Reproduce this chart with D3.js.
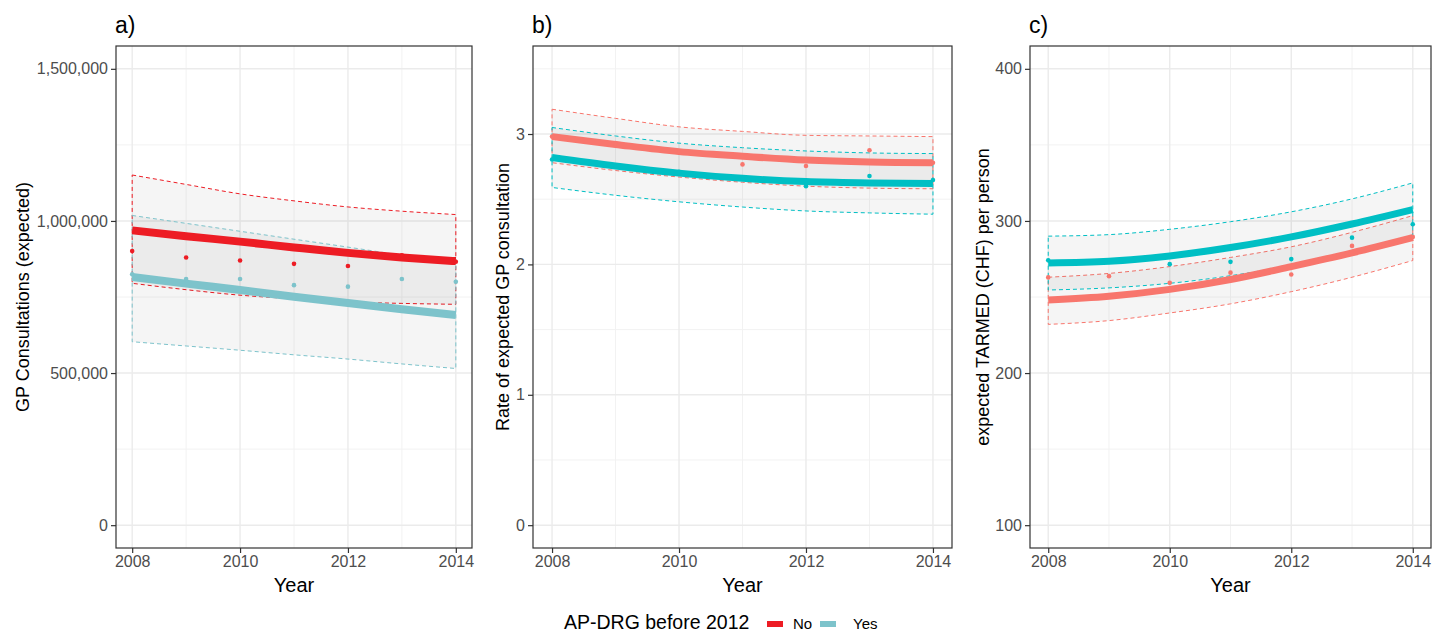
<!DOCTYPE html>
<html>
<head>
<meta charset="utf-8">
<script src="https://cdn.jsdelivr.net/npm/d3@7"></script>
<style>
  body { margin: 0; background: #fff; }
  svg { font-family: "Liberation Sans", Arial, sans-serif; }
</style>
</head>
<body>
<script>
// years on the x axis
var years = [2008, 2009, 2010, 2011, 2012, 2013, 2014];
var xTicks = [2008, 2010, 2012, 2014];

// a) GP consultations (expected)
var aNoFit  = [969000, 950000, 932000, 913000, 895000, 880000, 868000];
var aNoLow  = [795000, 774000, 756000, 744000, 734000, 729000, 726000];
var aNoHigh = [1151000, 1120000, 1089000, 1066000, 1046000, 1032000, 1021000];
var aNoObs  = [901000, 880000, 870000, 859000, 852000, 887000, 866000];
var aYesFit  = [816000, 794000, 773000, 751000, 730000, 710000, 691000];
var aYesLow  = [603000, 589000, 575000, 560000, 546000, 530000, 515000];
var aYesHigh = [1018000, 992000, 966000, 940000, 914000, 887000, 860000];
var aYesObs  = [825000, 809000, 809000, 789000, 784000, 809000, 800000];
var aTicks = [0, 500000, 1000000, 1500000];

// b) rate of expected GP consultation
var bNoFit  = [2.98, 2.92, 2.865, 2.83, 2.80, 2.785, 2.78];
var bNoLow  = [2.78, 2.72, 2.67, 2.63, 2.60, 2.585, 2.58];
var bNoHigh = [3.19, 3.12, 3.055, 3.02, 2.99, 2.985, 2.98];
var bNoObs  = [2.98, 2.93, 2.86, 2.767, 2.755, 2.875, 2.78];
var bYesFit  = [2.82, 2.755, 2.70, 2.66, 2.635, 2.625, 2.62];
var bYesLow  = [2.59, 2.53, 2.48, 2.44, 2.41, 2.395, 2.385];
var bYesHigh = [3.05, 2.985, 2.93, 2.895, 2.87, 2.855, 2.85];
var bYesObs  = [2.805, 2.75, 2.71, 2.66, 2.60, 2.678, 2.647];
var bTicks = [0, 1, 2, 3];

// c) expected TARMED (CHF) per person
var cNoFit  = [248, 250.5, 255, 261.5, 270, 279, 289];
var cNoLow  = [232, 234.5, 239.5, 245.5, 253.5, 263, 274];
var cNoHigh = [263, 265.5, 270, 276, 283, 292.5, 303.5];
var cNoObs  = [262.9, 263.7, 259.3, 266, 264.8, 283.6, 289.5];
var cYesFit  = [272.4, 273.5, 277, 282.5, 289.5, 298, 307.5];
var cYesLow  = [254.6, 256, 259, 264, 271, 280, 290.5];
var cYesHigh = [290, 291, 294.5, 299.5, 306, 314.5, 325];
var cYesObs  = [274.2, 273, 271.6, 273.1, 274.9, 289, 297.8];
var cTicks = [100, 200, 300, 400];

var legendLabels = ["No", "Yes"];
var legendColors = ["#ED1C24", "#7DC3CB"];

var panels = [
  {tag: "a)", left: 116, right: 472, domain: [0, 1500000], ticks: aTicks,
   fmt: d3.format(","), ytitle: "GP Consultations (expected)", titleX: 22,
   colors: ["#ED1C24", "#7DC3CB"],
   series: [[aNoFit, aNoLow, aNoHigh, aNoObs], [aYesFit, aYesLow, aYesHigh, aYesObs]]},
  {tag: "b)", left: 533, right: 952, domain: [0, 3.5], ticks: bTicks,
   fmt: d3.format("d"), ytitle: "Rate of expected GP consultation", titleX: 502,
   colors: ["#F8766D", "#00BFC4"],
   series: [[bNoFit, bNoLow, bNoHigh, bNoObs], [bYesFit, bYesLow, bYesHigh, bYesObs]]},
  {tag: "c)", left: 1030, right: 1431, domain: [100, 400], ticks: cTicks,
   fmt: d3.format("d"), ytitle: "expected TARMED (CHF) per person", titleX: 982,
   colors: ["#F8766D", "#00BFC4"],
   series: [[cNoFit, cNoLow, cNoHigh, cNoObs], [cYesFit, cYesLow, cYesHigh, cYesObs]]}
];

var W = 1441, H = 633, pTop = 46, pBottom = 548;

var svg = d3.select("body").append("svg")
  .attr("width", W).attr("height", H);

var expand = function(dom) {
  var e = (dom[1] - dom[0]) * 0.05;
  return [dom[0] - e, dom[1] + e];
};

panels.forEach(function(p) {
  var x = d3.scaleLinear().domain(expand([2008, 2014])).range([p.left, p.right]);
  var y = d3.scaleLinear().domain(expand(p.domain)).range([pBottom, pTop]);
  var g = svg.append("g");

  // grid: minor then major
  var yStep = p.ticks[1] - p.ticks[0];
  var yMinor = p.ticks.map(function(t) { return t + yStep / 2; });
  var xMinor = [2009, 2011, 2013];
  g.selectAll(".ymin").data(yMinor).enter().append("line")
    .attr("x1", p.left).attr("x2", p.right)
    .attr("y1", function(d) { return y(d); }).attr("y2", function(d) { return y(d); })
    .attr("stroke", "#f2f2f2").attr("stroke-width", 1);
  g.selectAll(".xmin").data(xMinor).enter().append("line")
    .attr("y1", pTop).attr("y2", pBottom)
    .attr("x1", function(d) { return x(d); }).attr("x2", function(d) { return x(d); })
    .attr("stroke", "#f2f2f2").attr("stroke-width", 1);
  g.selectAll(".ymaj").data(p.ticks).enter().append("line")
    .attr("x1", p.left).attr("x2", p.right)
    .attr("y1", function(d) { return y(d); }).attr("y2", function(d) { return y(d); })
    .attr("stroke", "#ebebeb").attr("stroke-width", 1.4);
  g.selectAll(".xmaj").data(xTicks).enter().append("line")
    .attr("y1", pTop).attr("y2", pBottom)
    .attr("x1", function(d) { return x(d); }).attr("x2", function(d) { return x(d); })
    .attr("stroke", "#ebebeb").attr("stroke-width", 1.4);

  var line = d3.line()
    .x(function(d, i) { return x(years[i]); })
    .y(function(d) { return y(d); })
    .curve(d3.curveMonotoneX);

  // ribbons with dashed outline
  p.series.forEach(function(s, k) {
    var area = d3.area()
      .x(function(d, i) { return x(years[i]); })
      .y0(function(d, i) { return y(s[1][i]); })
      .y1(function(d) { return y(d); })
      .curve(d3.curveMonotoneX);
    g.append("path").datum(s[2]).attr("d", area)
      .attr("fill", "#000").attr("fill-opacity", 0.04)
      .attr("stroke", p.colors[k]).attr("stroke-width", 1)
      .attr("stroke-dasharray", "4,3");
  });

  // fitted lines
  p.series.forEach(function(s, k) {
    g.append("path").datum(s[0]).attr("d", line)
      .attr("fill", "none").attr("stroke", p.colors[k])
      .attr("stroke-width", p.tag === "a)" ? 8 : 7)
      .attr("stroke-linecap", "butt");
  });

  // observed points
  p.series.forEach(function(s, k) {
    g.selectAll(".pt" + k).data(s[3]).enter().append("circle")
      .attr("cx", function(d, i) { return x(years[i]); })
      .attr("cy", function(d) { return y(d); })
      .attr("r", 2.3).attr("fill", p.colors[k]);
  });

  // panel border
  g.append("rect").attr("x", p.left).attr("y", pTop)
    .attr("width", p.right - p.left).attr("height", pBottom - pTop)
    .attr("fill", "none").attr("stroke", "#333").attr("stroke-width", 1.2);

  // axes
  var yAxis = d3.axisLeft(y).tickValues(p.ticks).tickFormat(p.fmt).tickSize(5).tickPadding(3);
  var ya = g.append("g").attr("transform", "translate(" + p.left + ",0)").call(yAxis);
  var xAxis = d3.axisBottom(x).tickValues(xTicks).tickFormat(d3.format("d")).tickSize(5).tickPadding(3);
  var xa = g.append("g").attr("transform", "translate(0," + pBottom + ")").call(xAxis);
  [ya, xa].forEach(function(a) {
    a.select(".domain").remove();
    a.selectAll(".tick line").attr("stroke", "#333").attr("stroke-width", 1.2);
    a.selectAll(".tick text").attr("fill", "#4d4d4d").style("font-size", "16px")
      .style("font-family", "Liberation Sans, Arial, sans-serif");
  });

  // titles
  g.append("text").attr("x", p.left - 1).attr("y", 33).text(p.tag)
    .style("font-size", "23px").attr("fill", "#000");
  g.append("text").attr("x", (p.left + p.right) / 2).attr("y", 592)
    .attr("text-anchor", "middle").text("Year")
    .style("font-size", "20px").attr("fill", "#000");
  g.append("text")
    .attr("transform", "translate(" + (p.titleX + 7) + "," + ((pTop + pBottom) / 2) + ") rotate(-90)")
    .attr("text-anchor", "middle").text(p.ytitle)
    .style("font-size", "18px").attr("fill", "#000");
});

// legend
var leg = svg.append("g").attr("transform", "translate(564,623)");
leg.append("text").attr("x", 0).attr("y", 6).text("AP-DRG before 2012")
  .style("font-size", "19.5px").attr("fill", "#000");
var keyX = [203, 256];
var labX = [229, 289];
legendLabels.forEach(function(lab, i) {
  leg.append("rect").attr("x", keyX[i]).attr("y", -2).attr("width", 16).attr("height", 6)
    .attr("fill", legendColors[i]);
  leg.append("text").attr("x", labX[i]).attr("y", 6).text(lab)
    .style("font-size", "15px").attr("fill", "#000");
});
</script>
</body>
</html>
